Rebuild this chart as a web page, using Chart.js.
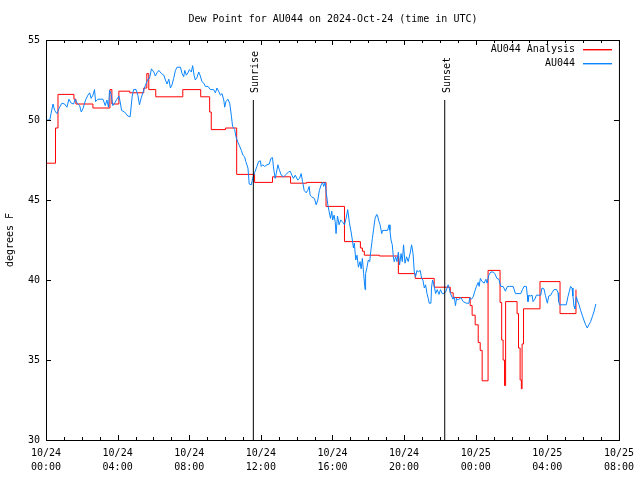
<!DOCTYPE html>
<html>
<head>
<meta charset="utf-8">
<script src="https://cdn.jsdelivr.net/npm/chart.js@4.4.1/dist/chart.umd.min.js"></script>
<style>
  html, body { margin: 0; padding: 0; background: #fff; }
</style>
</head>
<body>
<canvas id="chart" width="640" height="480"></canvas>
<script>
// x axis: hours since 10/24 00:00 UTC
const xTickDates = ["10/24", "10/24", "10/24", "10/24", "10/24", "10/24", "10/25", "10/25", "10/25"];
const xTickTimes = ["00:00", "04:00", "08:00", "12:00", "16:00", "20:00", "00:00", "04:00", "08:00"];

// AU044 Analysis (stepped)
const analysisHours = [0, 0.53, 0.67, 1.56, 1.67, 2.62, 3.57, 3.68, 4.07, 4.68, 5.46, 5.63, 5.74, 6.13,
  7.64, 8.64, 9.14, 9.23, 10.03, 10.65, 11.65, 12.65, 13.66, 14.55, 15.64, 16.67, 17.56, 17.67, 17.78,
  18.62, 19.68, 20.62, 21.68, 22.58, 22.74, 23.69, 23.8, 23.97, 24.14, 24.25, 24.36, 24.69, 25.36,
  25.45, 25.53, 25.61, 25.67, 26.31, 26.39, 26.48, 26.55, 26.59, 26.67, 27.59, 28.71, 29.6];
const analysisValues = [47.3, 49.5, 51.6, 51.3, 51.0, 50.75, 51.9, 51.0, 51.8, 51.7, 52.0, 52.9, 51.9, 51.45,
  51.9, 51.45, 50.5, 49.4, 49.5, 46.6, 46.1, 46.45, 46.05, 46.1, 44.6, 42.4, 42.0, 41.8, 41.55,
  41.5, 40.4, 40.1, 39.55, 39.2, 38.9, 38.4, 37.8, 37.2, 36.1, 35.6, 33.7, 40.6, 38.6,
  36.25, 35.0, 33.4, 38.65, 37.9, 35.75, 33.75, 33.2, 36.0, 38.2, 39.9, 37.9, 39.4];

// AU044 observations
const obsHours = [0, 0.21, 0.3, 0.39, 0.48, 0.61, 0.76, 0.89, 1.04, 1.17, 1.28, 1.41, 1.54, 1.63, 1.74, 1.88,
  1.97, 2.06, 2.21, 2.34, 2.44, 2.52, 2.62, 2.71, 2.77, 2.9, 3.18, 3.31, 3.4, 3.49, 3.55, 3.64, 3.73, 3.83,
  3.96, 4.07, 4.14, 4.22, 4.39, 4.57, 4.7, 4.81, 4.89, 5.03, 5.13, 5.22, 5.31, 5.41, 5.56, 5.69, 5.78, 5.89,
  6.02, 6.11, 6.2, 6.3, 6.45, 6.58, 6.67, 6.76, 6.86, 6.95, 7.04, 7.13, 7.23, 7.32, 7.51, 7.6, 7.69, 7.75,
  7.84, 7.93, 8.01, 8.12, 8.19, 8.27, 8.34, 8.43, 8.53, 8.62, 8.71, 8.81, 8.9, 9.05, 9.18, 9.36, 9.46, 9.55,
  9.64, 9.74, 9.83, 9.93, 9.98, 10.05, 10.16, 10.26, 10.35, 10.42, 10.54, 10.61, 10.72, 10.8, 10.91, 11.0,
  11.09, 11.16, 11.28, 11.35, 11.47, 11.54, 11.65, 11.78, 11.87, 11.97, 12.02, 12.1, 12.21, 12.34, 12.47,
  12.56, 12.65, 12.71, 12.8, 12.86, 12.95, 13.03, 13.14, 13.27, 13.36, 13.45, 13.55, 13.64, 13.73, 13.82,
  13.92, 14.06, 14.16, 14.25, 14.33, 14.42, 14.53, 14.62, 14.7, 14.75, 14.84, 14.99, 15.09, 15.18, 15.27,
  15.37, 15.44, 15.51, 15.59, 15.66, 15.74, 15.81, 15.89, 15.96, 16.01, 16.09, 16.15, 16.2, 16.28, 16.37,
  16.46, 16.55, 16.67, 16.76, 16.85, 16.95, 17.04, 17.11, 17.17, 17.22, 17.3, 17.37, 17.45, 17.54, 17.6,
  17.67, 17.74, 17.82, 17.85, 17.93, 18.0, 18.08, 18.15, 18.23, 18.3, 18.38, 18.47, 18.52, 18.6, 18.66,
  18.75, 18.8, 19.08, 19.16, 19.21, 19.27, 19.34, 19.4, 19.45, 19.53, 19.6, 19.68, 19.75, 19.83, 19.9,
  19.97, 20.05, 20.14, 20.23, 20.35, 20.42, 20.5, 20.57, 20.64, 20.72, 20.79, 20.9, 20.98, 21.05, 21.13,
  21.2, 21.28, 21.35, 21.4, 21.5, 21.53, 21.59, 21.67, 21.76, 21.85, 21.95, 22.03, 22.13, 22.24, 22.34,
  22.46, 22.52, 22.59, 22.65, 22.73, 22.8, 22.87, 22.93, 23.02, 23.17, 23.3, 23.48, 23.62, 23.67, 23.76,
  23.86, 23.95, 24.04, 24.14, 24.19, 24.26, 24.36, 24.47, 24.57, 24.64, 24.73, 24.84, 24.97, 25.07, 25.18,
  25.29, 25.4, 25.53, 25.66, 25.77, 25.9, 26.09, 26.22, 26.52, 26.61, 26.7, 26.83, 26.88, 26.92, 26.98,
  27.07, 27.15, 27.2, 27.3, 27.39, 27.63, 27.7, 27.81, 27.89, 28.0, 28.08, 28.19, 28.26, 28.37, 28.52,
  28.6, 28.63, 28.69, 29.06, 29.15, 29.23, 29.3, 29.38, 29.43, 29.49, 29.54, 29.62, 29.67, 29.77, 29.86,
  29.95, 30.04, 30.14, 30.23, 30.32, 30.42, 30.51, 30.6, 30.71];
const obsValues = [50.0, 50.0, 50.5, 51.0, 50.6, 50.4, 50.8, 51.05, 51.0, 50.8, 51.3, 51.05, 51.0, 51.3, 51.05, 50.9,
  50.5, 50.7, 51.25, 51.55, 51.7, 51.35, 51.55, 51.9, 51.15, 51.3, 51.3, 50.9, 51.25, 50.8, 51.85, 51.6, 50.9, 51.05,
  51.3, 51.5, 51.15, 50.6, 50.5, 50.25, 50.2, 51.45, 51.9, 51.9, 51.55, 50.95, 51.35, 51.7, 52.2, 52.55, 52.6, 53.2,
  53.0, 52.75, 52.95, 53.1, 52.9, 52.8, 52.5, 52.25, 52.55, 52.0, 52.2, 52.6, 53.1, 53.3, 53.3, 52.9, 52.7, 53.1,
  52.8, 52.95, 53.15, 53.0, 53.4, 52.8, 52.5, 52.65, 53.0, 52.75, 52.4, 52.3, 52.1, 52.1, 51.9, 51.9, 51.7, 52.0,
  51.8, 51.55, 51.65, 51.25, 50.8, 51.15, 51.3, 51.05, 50.3, 49.6, 49.4, 48.95, 48.6, 48.4, 48.1, 47.8,
  47.7, 47.4, 47.0, 46.0, 45.95, 46.35, 46.7, 47.1, 47.4, 47.45, 47.1, 47.2, 47.1, 47.2, 47.25,
  47.6, 47.65, 47.0, 46.35, 46.65, 47.2, 46.9, 46.55, 46.45, 46.55, 46.65, 46.75, 46.8, 46.55, 46.35,
  46.55, 46.25, 46.35, 46.65, 46.15, 45.6, 45.45, 45.6, 45.85, 45.3, 45.2, 45.1, 44.7, 45.0, 45.6,
  45.95, 46.1, 45.85, 46.1, 45.4, 44.7, 44.3, 43.85, 44.3, 43.75, 44.05, 43.65, 42.9, 44.0, 43.45,
  43.75, 43.65, 43.45, 43.85, 44.4, 43.55, 43.0, 42.5, 42.0, 42.3, 41.25, 41.55, 40.8, 41.15, 40.7,
  41.35, 40.4, 39.4, 40.4, 40.8, 41.25, 41.15, 41.9, 42.6, 43.2, 43.85, 44.1, 44.0, 43.65, 43.45,
  42.9, 43.1, 43.1, 43.45, 43.1, 42.5, 42.2, 41.45, 41.15, 41.45, 41.15, 41.75, 40.95, 41.65, 41.15,
  42.2, 41.05, 41.45, 41.15, 41.75, 42.2, 41.65, 40.5, 40.2, 40.6, 40.5, 40.6, 40.1, 40.0, 39.5,
  39.7, 39.15, 38.85, 38.55, 38.55, 39.5, 40.0, 39.7, 39.15, 39.4, 39.1, 39.4, 39.15, 39.15, 39.3,
  39.7, 39.5, 39.15, 39.0, 38.8, 38.95, 38.4, 38.85, 38.75, 38.9, 38.65, 38.55, 38.55, 38.9, 38.8,
  38.95, 39.3, 39.6, 39.85, 39.6, 40.1, 39.9, 39.8, 40.05, 39.8, 40.3, 40.5, 40.5, 40.4, 40.1,
  40.05, 39.6, 39.6, 39.3, 39.6, 39.6, 39.6, 39.15, 39.15, 39.4, 39.6, 39.6, 39.05, 38.65, 39.05,
  39.0, 39.05, 38.65, 38.8, 39.05, 39.05, 39.5, 39.45, 39.05, 38.55, 39.0, 39.05, 39.2, 39.4, 39.4,
  39.2, 38.65, 38.45, 38.45, 38.95, 39.3, 39.6, 39.5, 39.0, 38.35, 38.2, 38.95, 38.75, 38.45, 38.1,
  37.8, 37.5, 37.2, 37.0, 37.2, 37.4, 37.7, 38.0, 38.5];

const sunriseHour = 11.58;
const sunsetHour = 22.27;
const sunLineTop = 51.25;

const FONT = "DejaVu Sans Mono";
const RED = 'rgb(255, 0, 0)';
const BLUE = 'rgb(10, 132, 255)';

function pts(xs, ys) {
  return xs.map((x, i) => ({ x: x, y: ys[i] }));
}

// frame, inward ticks, title, legend and sun labels (gnuplot look)
const decorations = {
  id: 'decorations',
  afterDraw(chart) {
    const ctx = chart.ctx;
    const a = chart.chartArea;
    const xs = chart.scales.x;
    const ys = chart.scales.y;
    ctx.save();
    ctx.strokeStyle = '#000';
    ctx.lineWidth = 1;
    ctx.strokeRect(a.left + 0.5, a.top + 0.5, a.right - a.left, a.bottom - a.top);

    ctx.beginPath();
    for (let h = 0; h <= 32; h++) {
      const px = Math.round(xs.getPixelForValue(h)) + 0.5;
      const len = h % 4 === 0 ? 5 : 3;
      ctx.moveTo(px, a.bottom);
      ctx.lineTo(px, a.bottom - len);
      ctx.moveTo(px, a.top);
      ctx.lineTo(px, a.top + len);
    }
    for (let v = 30; v <= 55; v += 5) {
      const py = Math.round(ys.getPixelForValue(v)) + 0.5;
      ctx.moveTo(a.left, py);
      ctx.lineTo(a.left + 5, py);
      ctx.moveTo(a.right, py);
      ctx.lineTo(a.right - 5, py);
    }
    ctx.stroke();

    ctx.fillStyle = '#000';
    ctx.font = '10px "' + FONT + '"';
    ctx.textAlign = 'center';
    ctx.textBaseline = 'middle';
    ctx.fillText('Dew Point for AU044 on 2024-Oct-24 (time in UTC)', 333, 19);

    ctx.save();
    ctx.translate(10, 240);
    ctx.rotate(-Math.PI / 2);
    ctx.fillText('degrees F', 0, 0);
    ctx.restore();

    // legend
    ctx.textAlign = 'right';
    [['AU044 Analysis', RED, 49], ['AU044', BLUE, 63]].forEach(([txt, col, y]) => {
      ctx.fillStyle = '#000';
      ctx.fillText(txt, 575, y);
      ctx.fillStyle = col;
      ctx.fillRect(583, y, 29, 1.4);
    });

    // sunrise / sunset labels
    ctx.fillStyle = '#000';
    ctx.textAlign = 'left';
    ctx.textBaseline = 'alphabetic';
    [['Sunrise', sunriseHour], ['Sunset', sunsetHour]].forEach(([txt, h]) => {
      const px = xs.getPixelForValue(h);
      ctx.save();
      ctx.translate(px + 5, ys.getPixelForValue(sunLineTop) - 7);
      ctx.rotate(-Math.PI / 2);
      ctx.fillText(txt, 0, 0);
      ctx.restore();
    });
    ctx.restore();
  }
};

new Chart(document.getElementById('chart'), {
  type: 'line',
  data: {
    datasets: [
      {
        label: 'AU044',
        data: pts(obsHours, obsValues),
        borderColor: BLUE,
        borderWidth: 1,
        pointRadius: 0,
        order: 1
      },
      {
        label: 'AU044 Analysis',
        data: pts(analysisHours, analysisValues),
        borderColor: RED,
        borderWidth: 1,
        pointRadius: 0,
        stepped: true,
        order: 2
      },
      {
        label: 'Sunrise',
        data: [{ x: sunriseHour, y: 30 }, { x: sunriseHour, y: sunLineTop }],
        borderColor: '#000',
        borderWidth: 1,
        pointRadius: 0,
        order: 0
      },
      {
        label: 'Sunset',
        data: [{ x: sunsetHour, y: 30 }, { x: sunsetHour, y: sunLineTop }],
        borderColor: '#000',
        borderWidth: 1,
        pointRadius: 0,
        order: 0
      }
    ]
  },
  options: {
    responsive: false,
    animation: false,
    devicePixelRatio: 1,
    layout: { padding: { top: 40, right: 20, bottom: 0, left: 0 } },
    plugins: {
      legend: { display: false },
      tooltip: { enabled: false },
      title: { display: false }
    },
    scales: {
      x: {
        type: 'linear',
        min: 0,
        max: 32,
        grid: { display: false, drawTicks: false },
        border: { display: false },
        ticks: {
          stepSize: 4,
          autoSkip: false,
          maxRotation: 0,
          padding: 6,
          color: '#000',
          font: { family: FONT, size: 10, lineHeight: 1.4 },
          callback: (v) => [xTickDates[v / 4], xTickTimes[v / 4]]
        },
        afterFit: (s) => { s.height = 40; }
      },
      y: {
        min: 30,
        max: 55,
        grid: { display: false, drawTicks: false },
        border: { display: false },
        ticks: {
          stepSize: 5,
          padding: 6,
          color: '#000',
          font: { family: FONT, size: 10 }
        },
        afterFit: (s) => { s.width = 46; }
      }
    }
  },
  plugins: [decorations]
});
</script>
</body>
</html>
